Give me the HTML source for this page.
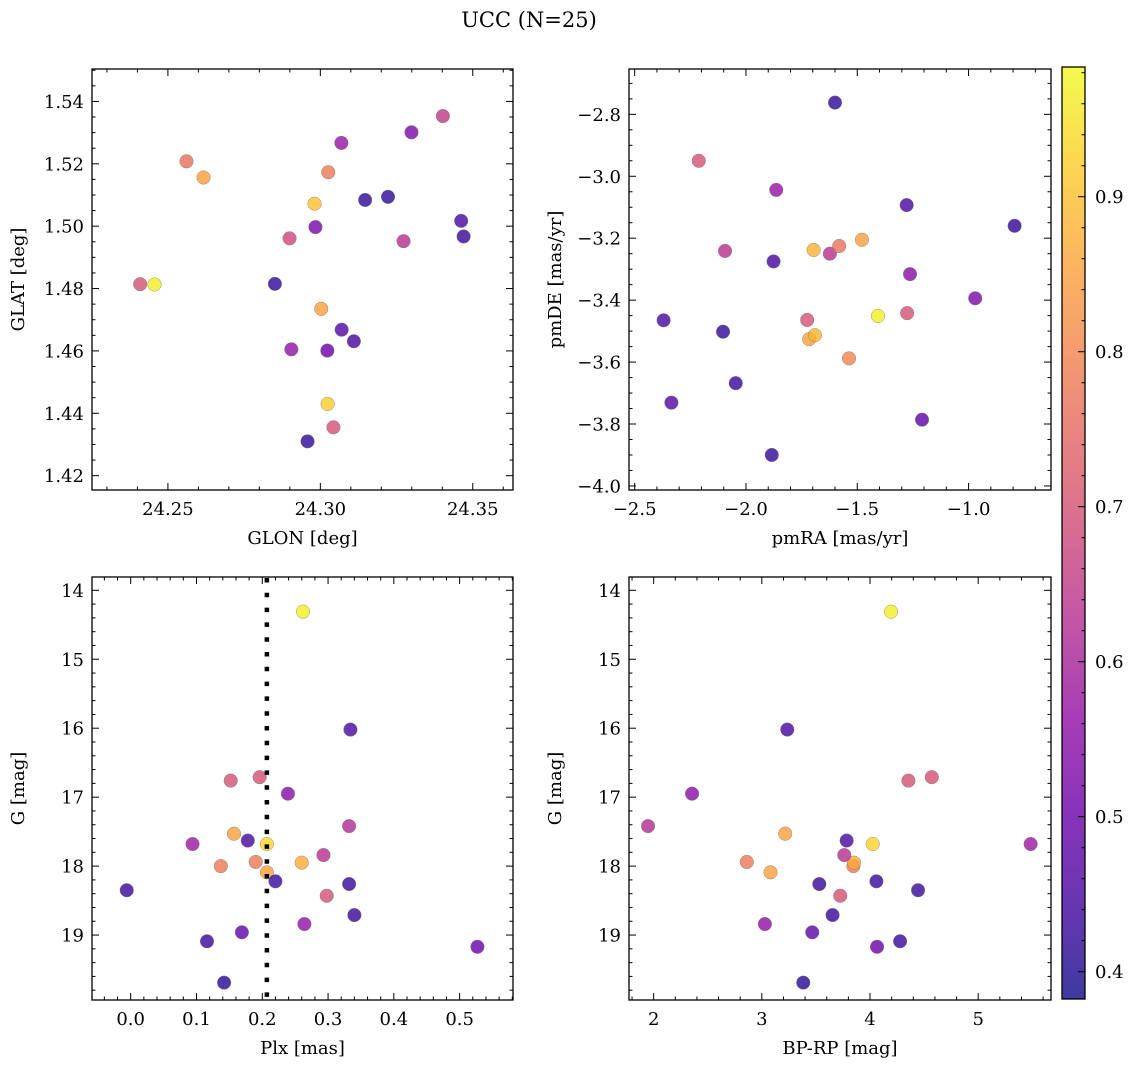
<!DOCTYPE html>
<html><head><meta charset="utf-8"><style>
html,body{margin:0;padding:0;background:#fff;}
svg{display:block;font-family:"DejaVu Serif","Liberation Serif",serif;}
</style></head><body>
<svg id="fig" width="1135" height="1067" viewBox="0 0 1135 1067" xmlns="http://www.w3.org/2000/svg">
<defs><linearGradient id="cbgrad" x1="0" y1="1" x2="0" y2="0"></linearGradient></defs>
<text x="529" y="27" font-size="21" text-anchor="middle">UCC (N=25)</text>
</svg>
<script>
// Panel 1: GLON / GLAT
const glon = [24.2561,24.2617,24.2409,24.2456,24.3069,24.3299,24.3402,24.3026,24.2981,24.3147,24.3222,24.2899,24.2984,24.3273,24.3462,24.3470,24.2851,24.3003,24.3070,24.3110,24.2905,24.3023,24.3024,24.3043,24.2958];
const glat = [1.5208,1.5156,1.4814,1.4813,1.5267,1.5301,1.5353,1.5173,1.5072,1.5084,1.5094,1.4961,1.4997,1.4952,1.5017,1.4967,1.4815,1.4735,1.4668,1.4631,1.4605,1.4601,1.4430,1.4355,1.4310];
const prob1 = [0.76,0.85,0.70,0.97,0.57,0.53,0.65,0.78,0.90,0.42,0.42,0.68,0.52,0.63,0.45,0.43,0.42,0.85,0.47,0.45,0.56,0.50,0.92,0.70,0.42];
// Panel 2: pmRA / pmDE
const pmra = [-1.600,-2.212,-1.864,-1.278,-0.793,-2.094,-1.876,-1.696,-1.623,-1.581,-1.479,-1.263,-0.970,-1.407,-1.276,-1.725,-1.716,-1.690,-1.537,-2.370,-2.103,-2.046,-2.335,-1.209,-1.884];
const pmde = [-2.762,-2.950,-3.044,-3.093,-3.160,-3.241,-3.275,-3.238,-3.250,-3.225,-3.205,-3.316,-3.394,-3.451,-3.442,-3.464,-3.526,-3.513,-3.588,-3.465,-3.502,-3.668,-3.731,-3.786,-3.900];
const prob2 = [0.42,0.70,0.57,0.45,0.42,0.63,0.45,0.88,0.63,0.77,0.85,0.55,0.53,0.97,0.70,0.70,0.85,0.88,0.80,0.45,0.42,0.43,0.47,0.48,0.42];
// Panels 3/4: Plx, BP-RP, G
const plx  = [0.262,0.334,0.152,0.196,0.239,0.157,0.178,0.207,0.094,0.332,0.137,0.190,0.207,0.220,-0.006,0.260,0.293,0.298,0.264,0.332,0.340,0.169,0.116,0.142,0.527];
const bprp = [4.194,3.235,4.355,4.571,2.355,3.216,3.784,4.025,5.485,1.948,3.846,2.861,3.080,4.059,4.444,3.852,3.762,3.725,3.028,3.531,3.654,3.466,4.278,3.383,4.065];
const gmag = [14.31,16.02,16.76,16.71,16.95,17.53,17.63,17.68,17.68,17.42,18.00,17.94,18.09,18.22,18.35,17.95,17.84,18.43,18.84,18.26,18.71,18.96,19.09,19.69,19.17];
const prob3 = [0.97,0.45,0.70,0.70,0.55,0.85,0.45,0.93,0.58,0.62,0.78,0.78,0.85,0.43,0.43,0.87,0.63,0.70,0.56,0.43,0.43,0.48,0.43,0.41,0.50];
const plxMedian = [0.207];
// Tick labels
const p1xTicks = [24.25,24.30,24.35];
const p1yTicks = [1.42,1.44,1.46,1.48,1.50,1.52,1.54];
const p2xTicks = [-2.5,-2.0,-1.5,-1.0];
const p2yTicks = [-4.0,-3.8,-3.6,-3.4,-3.2,-3.0,-2.8];
const p3xTicks = [0.0,0.1,0.2,0.3,0.4,0.5];
const gTicks = [14,15,16,17,18,19];
const p4xTicks = [2,3,4,5];
const cbTicks = [0.4,0.5,0.6,0.7,0.8,0.9];

const NS = "http://www.w3.org/2000/svg";
const svg = document.getElementById('fig');
const plasma = [[13,8,135],[65,4,157],[106,0,168],[143,13,164],[177,42,144],[204,71,120],[225,100,98],[242,132,75],[252,166,54],[252,206,37],[240,249,33]];
function cmap(t){t=Math.max(0,Math.min(1,t));const f=t*10,i=Math.min(9,Math.floor(f)),r=f-i;const a=plasma[i],b=plasma[i+1];
 return 'rgb('+[0,1,2].map(k=>Math.round(a[k]+(b[k]-a[k])*r)).join(',')+')';}
const CMIN=0.3824, CMAX=0.9837;
function el(tag,attrs,parent){const e=document.createElementNS(NS,tag);for(const k in attrs)e.setAttribute(k,attrs[k]);(parent||svg).appendChild(e);return e;}
function fmt(v,d){const s=Math.abs(v).toFixed(d);return (v<0?'\u2212':'')+s;}

function makeAxes(cfg){
 const g=el('g',{});
 
 
 const sx=v=>cfg.x0+(v-cfg.xd[0])/(cfg.xd[1]-cfg.xd[0])*(cfg.x1-cfg.x0);
 const sy=v=>cfg.y1-(v-cfg.yd[0])/(cfg.yd[1]-cfg.yd[0])*(cfg.y1-cfg.y0);
 const syInv=v=>cfg.y0+(v-cfg.yd[0])/(cfg.yd[1]-cfg.yd[0])*(cfg.y1-cfg.y0);
 const Y = cfg.invert? syInv : sy;
 const xmn=Math.ceil(cfg.xd[0]/cfg.xminor-1e-9), xmx=Math.floor(cfg.xd[1]/cfg.xminor+1e-9);
 for(let i=xmn;i<=xmx;i++){const v=i*cfg.xminor;const px=sx(v);const isMaj=Math.abs(v/cfg.xmajor-Math.round(v/cfg.xmajor))<1e-6;const L=isMaj?7:3.5;
  el('line',{x1:px,x2:px,y1:cfg.y1,y2:cfg.y1-L,stroke:'#000','stroke-width':1},g);
  el('line',{x1:px,x2:px,y1:cfg.y0,y2:cfg.y0+L,stroke:'#000','stroke-width':1},g);}
 const ymn=Math.ceil(cfg.yd[0]/cfg.yminor-1e-9), ymx=Math.floor(cfg.yd[1]/cfg.yminor+1e-9);
 for(let i=ymn;i<=ymx;i++){const v=i*cfg.yminor;const py=Y(v);const isMaj=Math.abs(v/cfg.ymajor-Math.round(v/cfg.ymajor))<1e-6;const L=isMaj?7:3.5;
  el('line',{x1:cfg.x0,x2:cfg.x0+L,y1:py,y2:py,stroke:'#000','stroke-width':1},g);
  el('line',{x1:cfg.x1,x2:cfg.x1-L,y1:py,y2:py,stroke:'#000','stroke-width':1},g);}
 cfg.xticks.forEach(v=>{const t=el('text',{x:sx(v),y:cfg.y1+25,'font-size':18,'text-anchor':'middle'},g);
  
  
  t.textContent=fmt(v,cfg.xdec);});
 cfg.yticks.forEach(v=>{const t=el('text',{x:cfg.x0-8,y:Y(v)+6.5,'font-size':18,'text-anchor':'end'},g);
  
  
  t.textContent=fmt(v,cfg.ydec);});
 const xl=el('text',{x:(cfg.x0+cfg.x1)/2,y:cfg.y1+54,'font-size':18,'text-anchor':'middle'},g);
 
 
 xl.textContent=cfg.xlabel;
 const yx=cfg.x0-68, yy=(cfg.y0+cfg.y1)/2;
 const yl=el('text',{x:yx,y:yy,'font-size':18,'text-anchor':'middle',transform:'rotate(-90 '+yx+' '+yy+')'},g);
 
 
 yl.textContent=cfg.ylabel;
 const pts=el('g',{},g);
 
 
 if(cfg.vline){cfg.vline.forEach(v=>{const l=el('line',{x1:sx(v),x2:sx(v),y1:cfg.y0+1,y2:cfg.y1,stroke:'#000','stroke-width':4.5,'stroke-dasharray':'4.5 10.3'},g);
  
  });}
 cfg.xs.forEach((xv,i)=>{const c=el('circle',{cx:sx(xv),cy:Y(cfg.ys[i]),r:6.8,fill:cmap((cfg.cs[i]-CMIN)/(CMAX-CMIN)),'fill-opacity':0.8,stroke:'#777','stroke-width':0.4},pts);
  
  });
 const f=el('rect',{x:cfg.x0,y:cfg.y0,width:cfg.x1-cfg.x0,height:cfg.y1-cfg.y0,fill:'none',stroke:'#000','stroke-width':1.3},g);
 
 
}

makeAxes({name:'panel-glon-glat',x0:92,x1:513,y0:69,y1:490,xd:[24.2251,24.3632],yd:[1.4154,1.5504],xmajor:0.05,xminor:0.01,ymajor:0.02,yminor:0.005,xticks:p1xTicks,yticks:p1yTicks,xdec:2,ydec:2,xlabel:'GLON [deg]',ylabel:'GLAT [deg]',xs:glon,ys:glat,cs:prob1});
makeAxes({name:'panel-pmra-pmde',x0:629,x1:1051,y0:69,y1:490,xd:[-2.5255,-0.6296],yd:[-4.0131,-2.6536],xmajor:0.5,xminor:0.1,ymajor:0.2,yminor:0.05,xticks:p2xTicks,yticks:p2yTicks,xdec:1,ydec:1,xlabel:'pmRA [mas/yr]',ylabel:'pmDE [mas/yr]',xs:pmra,ys:pmde,cs:prob2});
makeAxes({name:'panel-plx-g',x0:92,x1:513,y0:577,y1:1000,xd:[-0.0588,0.5811],yd:[13.807,19.942],invert:true,xmajor:0.1,xminor:0.02,ymajor:1,yminor:0.2,xticks:p3xTicks,yticks:gTicks,xdec:1,ydec:0,xlabel:'Plx [mas]',ylabel:'G [mag]',xs:plx,ys:gmag,cs:prob3,vline:plxMedian});
makeAxes({name:'panel-bprp-g',x0:629,x1:1051,y0:577,y1:1000,xd:[1.772,5.673],yd:[13.807,19.942],invert:true,xmajor:1,xminor:0.2,ymajor:1,yminor:0.2,xticks:p4xTicks,yticks:gTicks,xdec:0,ydec:0,xlabel:'BP-RP [mag]',ylabel:'G [mag]',xs:bprp,ys:gmag,cs:prob3});

// colorbar
const grad=document.getElementById('cbgrad');
for(let i=0;i<=20;i++){el('stop',{offset:(i/20),'stop-color':cmap(i/20)},grad);}
const cb=el('g',{});


const cbX0=1062,cbX1=1085,cbY0=67,cbY1=999;
el('rect',{x:cbX0,y:cbY0,width:cbX1-cbX0,height:cbY1-cbY0,fill:'url(#cbgrad)','fill-opacity':0.8},cb);
const cy=v=>cbY1-(v-CMIN)/(CMAX-CMIN)*(cbY1-cbY0);
for(let i=Math.ceil(CMIN/0.02);i<=Math.floor(CMAX/0.02);i++){const v=i*0.02;const maj=Math.abs(v*10-Math.round(v*10))<1e-6;
 el('line',{x1:cbX1,x2:cbX1-(maj?7:3.5),y1:cy(v),y2:cy(v),stroke:'#000','stroke-width':1},cb);}
cbTicks.forEach(v=>{const t=el('text',{x:1095,y:cy(v)+6.5,'font-size':18},cb);
 
 
 t.textContent=v.toFixed(1);});
el('rect',{x:cbX0,y:cbY0,width:cbX1-cbX0,height:cbY1-cbY0,fill:'none',stroke:'#000','stroke-width':1.3},cb);
</script>
</body></html>
